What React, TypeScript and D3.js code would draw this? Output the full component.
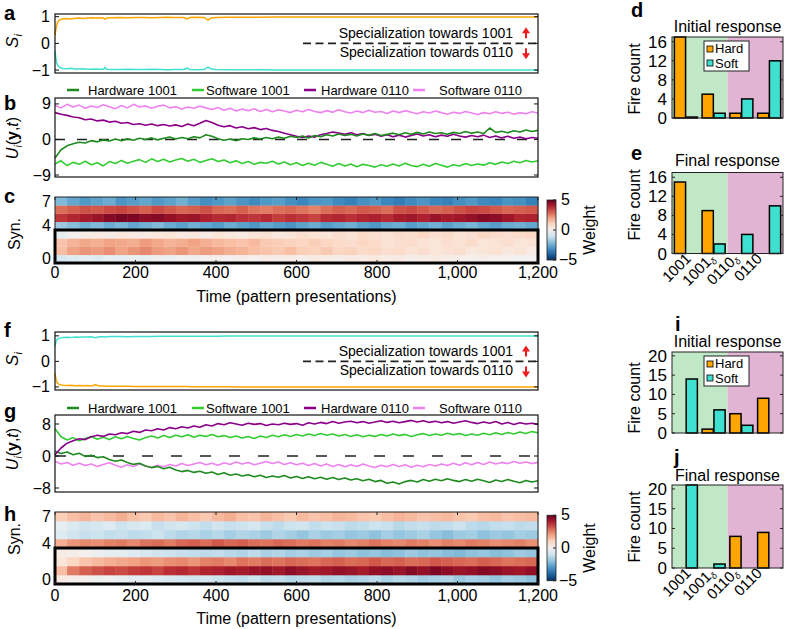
import React from "react";
import * as d3 from "d3";

const FONT = "'Liberation Sans', Arial, Helvetica, sans-serif";

const C_ORANGE = "#ffa500";
const C_CYAN = "#40e0d0";
const C_HW1001 = "#1f8a1f";
const C_SW1001 = "#33cc33";
const C_HW0110 = "#8b008b";
const C_SW0110 = "#ee82ee";
const BG_GREEN = "#c0e8c6";
const BG_PINK = "#e2b4d4";
const ARROW_RED = "#ee1c1c";

const L = 55;
const R = 538;

// ---------- time axis ----------
const TIME_MAX = 1200;
const TIME_TICKS = [0, 200, 400, 600, 800, 1000, 1200];
const TIME_TICK_LABELS = ["0", "200", "400", "600", "800", "1,000", "1,200"];
const TIME_TITLE = "Time (pattern presentations)";

// ---------- S_i panels (a, f) ----------
const S_T = [0, 3, 6, 10, 15, 20, 30, 40, 50, 60, 70, 80, 90, 100, 110, 120, 124, 128, 140, 160, 180, 200, 220, 240, 260, 280, 300, 320, 328, 335, 350, 370, 380, 388, 400, 430, 460, 500, 550, 600, 650, 700, 750, 800, 850, 900, 950, 1000, 1050, 1100, 1150, 1200];
const A_ORANGE = [0.3, 0.6, 0.78, 0.86, 0.9, 0.92, 0.93, 0.91, 0.94, 0.95, 0.93, 0.95, 0.96, 0.95, 0.96, 0.95, 0.9, 0.95, 0.96, 0.97, 0.96, 0.97, 0.97, 0.96, 0.97, 0.98, 0.97, 0.97, 0.92, 0.97, 0.98, 0.97, 0.87, 0.95, 0.97, 0.98, 0.98, 0.98, 0.99, 0.99, 0.99, 0.99, 0.99, 0.99, 0.99, 0.99, 0.99, 0.99, 0.99, 0.99, 0.99, 0.99];
const A_CYAN = [-0.3, -0.65, -0.8, -0.88, -0.92, -0.94, -0.95, -0.93, -0.96, -0.96, -0.95, -0.97, -0.97, -0.96, -0.97, -0.97, -0.91, -0.97, -0.98, -0.98, -0.97, -0.98, -0.98, -0.97, -0.98, -0.99, -0.98, -0.98, -0.93, -0.98, -0.99, -0.98, -0.89, -0.96, -0.98, -0.99, -0.99, -0.99, -1, -1, -1, -1, -1, -1, -1, -1, -1, -1, -1, -1, -1, -1];
const F_CYAN = [0.6, 0.8, 0.87, 0.9, 0.92, 0.93, 0.94, 0.93, 0.95, 0.94, 0.95, 0.95, 0.96, 0.93, 0.96, 0.96, 0.95, 0.96, 0.97, 0.97, 0.96, 0.97, 0.97, 0.97, 0.98, 0.98, 0.98, 0.98, 0.98, 0.98, 0.98, 0.98, 0.98, 0.98, 0.98, 0.99, 0.99, 0.99, 0.99, 0.99, 0.99, 0.99, 0.99, 0.99, 0.99, 0.99, 0.99, 0.99, 0.99, 0.99, 0.99, 0.99];
const F_ORANGE = [-0.45, -0.75, -0.85, -0.9, -0.92, -0.93, -0.94, -0.93, -0.95, -0.94, -0.95, -0.94, -0.96, -0.92, -0.96, -0.96, -0.96, -0.97, -0.97, -0.97, -0.97, -0.98, -0.98, -0.98, -0.98, -0.98, -0.98, -0.98, -0.98, -0.99, -0.99, -0.99, -0.99, -0.99, -0.99, -0.99, -1, -1, -1, -1, -1, -1, -1, -1, -1, -1, -1, -1, -1, -1, -1, -1];
const S_TICKS = [-1, 0, 1];
const SPEC_TEXT_UP = "Specialization towards 1001";
const SPEC_TEXT_DOWN = "Specialization towards 0110";

// ---------- U_i panels (b, g) — sampled every 15 presentations ----------
const LEGEND_LABELS = ["Hardware 1001", "Software 1001", "Hardware 0110", "Software 0110"];

const B_HW1001 = [-4.7, -2.6, -1.6, -1.1, -0.7, -0.9, -0.3, -0.6, -0.1, -0.4, 0.1, -0.3, 0.2, -0.2, 0.3, 0.0, 0.4, -0.1, 0.3, 0.6, 0.1, 0.5, 0.2, 0.7, 0.4, 1.2, 0.8, 0.2, -0.2, 0.1, -0.3, 0.2, 0.0, 0.4, 0.1, 0.5, 0.2, 0.6, 0.3, 0.8, 0.5, 0.9, 0.4, 1.0, 0.7, 1.2, 0.9, 1.4, 1.0, 1.3, 0.9, 1.4, 1.1, 1.5, 1.0, 1.3, 1.6, 1.2, 1.7, 1.3, 1.8, 1.4, 1.9, 1.5, 1.7, 1.3, 1.8, 1.5, 2.0, 1.6, 1.9, 1.5, 2.9, 1.8, 2.1, 1.7, 2.2, 1.9, 2.4, 2.0, 2.3];
const B_SW1001 = [-6.2, -5.4, -6.6, -5.8, -6.3, -5.5, -6.4, -5.9, -6.7, -5.6, -6.1, -5.3, -6.0, -5.5, -5.1, -5.8, -4.9, -5.6, -5.0, -5.7, -5.2, -4.8, -5.5, -5.0, -5.8, -5.3, -4.9, -5.6, -5.2, -5.9, -5.4, -6.1, -5.6, -6.3, -5.8, -6.0, -5.5, -6.2, -5.7, -6.4, -5.9, -6.6, -6.0, -6.5, -5.8, -6.3, -6.8, -6.1, -6.7, -6.2, -6.9, -6.3, -6.6, -7.0, -6.4, -6.8, -6.2, -6.7, -6.0, -6.6, -6.9, -6.3, -6.8, -6.1, -6.5, -7.0, -6.4, -6.7, -6.1, -6.6, -6.2, -6.5, -5.9, -6.3, -5.7, -6.1, -5.5, -5.9, -5.3, -5.7, -5.4];
const B_HW0110 = [6.8, 6.4, 6.1, 5.7, 5.5, 5.0, 5.2, 4.7, 4.9, 4.4, 4.6, 4.1, 4.3, 3.8, 4.0, 3.6, 3.9, 3.5, 3.8, 3.4, 3.7, 3.3, 3.9, 3.5, 4.1, 4.8, 4.3, 3.6, 3.2, 3.5, 2.9, 3.2, 2.7, 3.0, 2.5, 2.8, 2.3, 2.0, 1.6, 1.2, 0.8, 0.5, 0.9, 0.6, 1.2, 1.5, 1.9, 1.6, 1.3, 1.7, 1.2, 1.5, 1.0, 1.3, 0.8, 1.2, 0.7, 1.1, 0.6, 1.0, 1.4, 0.9, 1.2, 0.7, 1.1, 0.8, 1.3, 0.9, 0.6, 1.0, 0.7, 1.1, 0.5, 0.9, 0.4, 0.8, 0.3, 0.6, 0.2, 0.5, 0.3];
const B_SW0110 = [8.6, 8.0, 8.9, 8.2, 8.7, 7.9, 8.5, 8.1, 8.8, 8.3, 7.8, 8.6, 8.0, 8.9, 8.2, 8.5, 7.9, 8.4, 8.7, 8.0, 8.3, 7.7, 8.2, 7.9, 8.4, 8.0, 7.6, 8.1, 7.4, 7.9, 7.2, 7.7, 7.3, 7.8, 7.1, 7.6, 7.0, 7.5, 7.2, 6.8, 7.4, 7.0, 7.6, 7.1, 6.8, 7.3, 6.9, 7.5, 7.0, 6.7, 7.2, 6.8, 7.4, 6.9, 7.1, 6.6, 7.2, 6.8, 7.3, 6.9, 6.5, 7.0, 6.7, 7.2, 6.8, 6.4, 6.9, 6.6, 7.1, 6.7, 6.3, 6.8, 6.5, 7.0, 6.6, 6.9, 6.4, 6.8, 6.5, 7.0, 6.7];
const B_TICKS = [-9, 0, 9];

const G_HW1001 = [1.2, 0.6, 1.0, 0.3, 0.7, -0.1, 0.2, -0.4, -0.2, -0.9, -1.3, -1.0, -1.6, -2.1, -1.8, -2.5, -2.9, -2.6, -3.2, -2.8, -3.5, -3.9, -3.6, -4.1, -3.8, -4.3, -4.0, -4.6, -4.2, -4.8, -4.5, -5.0, -4.7, -5.2, -4.8, -5.4, -5.0, -5.3, -4.9, -5.5, -5.1, -5.6, -5.2, -5.7, -5.3, -5.8, -5.4, -5.9, -5.5, -6.0, -5.7, -6.2, -5.8, -6.4, -6.1, -6.8, -6.5, -7.0, -6.4, -6.1, -6.5, -5.9, -6.3, -5.8, -6.2, -5.7, -6.1, -6.4, -5.9, -6.3, -5.8, -6.2, -6.6, -6.0, -6.4, -5.9, -6.3, -6.7, -6.1, -6.5, -6.2];
const G_SW1001 = [6.8, 4.8, 4.0, 4.6, 3.8, 4.4, 4.9, 4.2, 4.7, 4.1, 4.8, 4.3, 4.9, 4.4, 4.0, 4.6, 5.0, 4.5, 5.1, 4.6, 5.2, 4.8, 5.3, 4.7, 5.2, 4.9, 5.4, 4.8, 5.1, 4.6, 5.0, 4.5, 4.9, 4.4, 5.0, 4.6, 5.2, 4.8, 5.3, 4.9, 5.4, 5.0, 5.5, 5.1, 5.6, 5.2, 5.5, 5.0, 5.4, 4.9, 5.3, 4.8, 5.2, 4.9, 5.4, 5.0, 5.5, 5.1, 5.4, 4.9, 5.3, 5.6, 5.1, 5.5, 5.2, 5.7, 5.3, 5.6, 5.1, 5.5, 5.2, 5.7, 5.3, 5.8, 5.4, 5.9, 5.5, 6.0, 5.6, 6.1, 5.8];
const G_HW0110 = [0.3, 2.0, 3.2, 3.8, 4.3, 4.1, 4.8, 5.2, 4.9, 5.5, 5.3, 5.8, 5.6, 6.2, 5.9, 6.5, 6.3, 6.8, 6.5, 7.1, 6.8, 7.3, 7.0, 7.5, 7.2, 7.8, 7.5, 8.1, 7.8, 8.3, 8.0, 7.7, 8.2, 7.9, 8.1, 7.6, 8.0, 7.8, 8.2, 7.9, 8.1, 7.7, 8.3, 8.0, 8.4, 8.1, 8.6, 8.2, 8.5, 8.7, 8.3, 8.6, 8.2, 8.5, 8.8, 8.4, 8.7, 8.3, 8.6, 8.9, 8.5, 8.8, 8.4, 8.7, 8.3, 8.6, 8.2, 8.5, 8.8, 8.4, 8.1, 8.5, 8.2, 8.6, 8.0, 8.4, 7.9, 8.3, 8.0, 8.2, 7.9];
const G_SW0110 = [-1.3, -2.0, -1.6, -2.3, -1.8, -2.4, -2.0, -2.6, -2.1, -1.7, -2.3, -2.8, -2.2, -2.6, -2.0, -2.5, -2.9, -2.3, -2.7, -2.1, -2.5, -1.9, -2.4, -2.0, -1.6, -2.2, -1.8, -2.3, -1.7, -2.1, -1.5, -2.0, -1.6, -2.2, -1.8, -1.4, -1.9, -1.5, -2.1, -1.7, -2.2, -1.8, -2.4, -1.9, -2.5, -2.0, -2.6, -2.1, -2.7, -2.2, -2.6, -2.0, -2.5, -2.9, -2.3, -2.7, -2.1, -2.6, -2.2, -2.8, -2.3, -2.7, -2.1, -2.5, -2.0, -2.4, -1.8, -2.3, -1.7, -2.2, -1.6, -2.1, -1.5, -2.0, -1.6, -1.9, -1.4, -1.8, -1.5, -1.9, -1.6];
const G_TICKS = [-8, 0, 8];

// ---------- heatmaps (c, h): synapse weights, 40 time bins of 30 presentations ----------
const C_SYN7 = [-2.2, -2.6, -2.9, -2.7, -2.5, -3.0, -2.8, -2.6, -2.9, -2.7, -2.4, -2.8, -3.1, -2.9, -2.7, -3.0, -3.2, -2.9, -2.8, -3.1, -3.3, -3.0, -2.9, -3.2, -3.4, -3.1, -2.9, -3.3, -3.5, -3.2, -3.0, -3.3, -3.4, -3.1, -2.9, -3.2, -3.3, -3.0, -3.1, -3.4];
const C_SYN6 = [2.8, 3.0, 3.2, 3.1, 3.3, 3.4, 3.2, 3.0, 3.3, 3.1, 2.9, 3.0, 3.2, 2.9, 2.8, 3.0, 2.7, 2.6, 2.8, 2.9, 2.7, 2.5, 2.8, 3.0, 2.9, 3.1, 3.0, 2.8, 3.2, 3.3, 3.1, 2.9, 3.0, 3.2, 3.4, 3.3, 3.1, 2.9, 3.0, 3.1];
const C_SYN5 = [3.6, 3.9, 4.1, 4.3, 4.6, 4.8, 4.7, 4.5, 4.6, 4.4, 4.2, 4.3, 4.0, 3.8, 3.9, 3.7, 3.6, 3.8, 3.5, 3.7, 3.6, 3.4, 3.8, 3.9, 3.7, 3.9, 4.0, 3.8, 4.1, 4.2, 4.0, 4.3, 4.1, 4.2, 4.4, 4.6, 4.5, 4.2, 3.9, 4.0];
const C_SYN4 = [-1.8, -2.1, -2.4, -2.2, -2.5, -2.3, -2.6, -2.4, -2.2, -2.5, -2.7, -2.4, -2.6, -2.8, -2.5, -2.7, -2.9, -2.6, -2.8, -3.0, -2.7, -2.5, -2.8, -2.6, -2.4, -2.7, -2.9, -2.6, -2.5, -2.8, -2.6, -2.4, -2.7, -2.5, -2.3, -2.6, -2.8, -2.5, -2.4, -2.6];
const C_SYN3 = [-0.4, 0.0, 0.3, 0.4, 0.3, 0.5, 0.4, 0.3, 0.5, 0.6, 0.4, 0.5, 0.3, 0.6, 0.5, 0.4, 0.6, 0.7, 0.5, 0.6, 0.8, 0.7, 0.6, 0.8, 0.7, 0.9, 0.8, 0.7, 0.9, 0.8, 1.0, 0.8, 0.9, 0.7, 0.8, 1.0, 0.9, 0.8, 0.9, 1.0];
const C_SYN2 = [1.4, 1.7, 1.9, 1.8, 2.0, 1.9, 1.8, 2.1, 1.9, 1.7, 1.8, 2.0, 1.8, 1.6, 1.5, 1.4, 1.6, 1.3, 1.2, 1.1, 1.0, 1.2, 1.0, 0.9, 0.8, 1.0, 0.9, 0.7, 0.8, 0.9, 0.7, 0.6, 0.8, 0.7, 0.9, 0.6, 0.7, 0.8, 0.6, 0.7];
const C_SYN1 = [1.5, 2.0, 2.2, 2.1, 2.3, 2.0, 2.2, 2.4, 2.1, 2.0, 2.2, 1.9, 2.1, 2.0, 1.8, 1.7, 1.5, 1.4, 1.3, 1.5, 1.2, 1.1, 1.3, 1.0, 1.1, 0.9, 1.0, 0.8, 0.9, 0.7, 0.8, 0.6, 0.7, 0.8, 0.5, 0.6, 0.7, 0.5, 0.6, 0.4];
const C_SYN0 = [-0.8, -0.6, -0.5, -0.6, -0.4, -0.5, -0.3, -0.4, -0.2, -0.3, -0.1, -0.2, 0.0, 0.1, 0.0, 0.2, 0.1, 0.3, 0.2, 0.3, 0.2, 0.4, 0.3, 0.2, 0.4, 0.3, 0.5, 0.3, 0.4, 0.2, 0.3, 0.4, 0.3, 0.2, 0.1, 0.2, 0.0, 0.1, -0.1, 0.0];

const H_SYN7 = [1.2, 1.5, 1.7, 1.4, 1.6, 1.8, 1.5, 1.3, 1.6, 1.4, 1.7, 1.5, 1.3, 1.6, 1.8, 1.5, 1.4, 1.7, 1.5, 1.3, 1.6, 1.4, 1.5, 1.7, 1.6, 1.4, 1.3, 1.5, 1.7, 1.6, 1.4, 1.5, 1.6, 1.4, 1.3, 1.5, 1.6, 1.4, 1.5, 1.6];
const H_SYN6 = [-0.4, -0.7, -0.9, -0.8, -0.6, -1.0, -0.8, -0.7, -1.1, -0.9, -0.8, -1.0, -1.2, -0.9, -1.1, -1.0, -0.8, -1.1, -1.3, -1.0, -0.9, -1.2, -1.0, -1.1, -1.3, -1.2, -1.0, -1.1, -1.4, -1.2, -1.1, -1.3, -1.2, -1.0, -1.3, -1.4, -1.2, -1.1, -1.3, -1.2];
const H_SYN5 = [-0.6, -0.9, -1.1, -1.0, -1.2, -1.1, -1.3, -1.2, -1.0, -1.3, -1.5, -1.4, -1.6, -1.4, -1.7, -1.5, -1.6, -1.8, -1.5, -1.7, -1.9, -1.6, -1.8, -1.7, -1.9, -1.8, -2.0, -1.7, -1.9, -1.8, -1.6, -1.9, -2.1, -1.8, -1.7, -2.0, -1.8, -1.9, -1.7, -1.8];
const H_SYN4 = [1.8, 2.2, 2.4, 2.3, 2.5, 2.6, 2.4, 2.7, 2.8, 2.6, 2.9, 3.0, 2.8, 3.1, 2.9, 3.0, 2.8, 2.7, 2.9, 2.8, 2.6, 2.7, 2.5, 2.6, 2.4, 2.5, 2.7, 2.5, 2.4, 2.6, 2.5, 2.3, 2.5, 2.4, 2.6, 2.5, 2.3, 2.4, 2.5, 2.3];
const H_SYN3 = [0.3, 0.2, 0.0, -0.2, -0.4, -0.5, -0.6, -0.8, -0.9, -1.0, -1.1, -1.2, -1.3, -1.2, -1.4, -1.5, -1.3, -1.6, -1.5, -1.7, -1.6, -1.8, -1.7, -1.9, -1.8, -2.0, -1.9, -2.1, -2.0, -1.8, -2.0, -1.9, -2.1, -2.2, -2.0, -1.9, -2.1, -2.0, -1.8, -1.9];
const H_SYN2 = [0.6, 1.0, 1.4, 1.6, 1.8, 1.9, 2.0, 2.2, 2.1, 2.3, 2.4, 2.2, 2.5, 2.6, 2.4, 2.7, 2.6, 2.8, 2.7, 2.9, 2.8, 2.7, 2.9, 3.0, 2.8, 2.9, 3.1, 2.9, 3.0, 2.8, 2.9, 3.1, 3.0, 2.9, 2.8, 3.0, 2.9, 2.7, 2.8, 2.9];
const H_SYN1 = [1.5, 2.6, 3.0, 3.2, 3.4, 3.3, 3.5, 3.6, 3.4, 3.7, 3.8, 3.6, 3.9, 4.0, 4.2, 4.1, 4.3, 4.4, 4.2, 4.5, 4.3, 4.1, 4.2, 4.4, 4.3, 4.1, 4.4, 4.5, 4.3, 4.6, 4.4, 4.7, 4.5, 4.3, 4.4, 4.6, 4.5, 4.3, 4.2, 4.4];
const H_SYN0 = [0.4, 0.2, 0.0, -0.2, -0.1, -0.3, -0.5, -0.4, -0.6, -0.7, -0.8, -0.9, -0.8, -1.0, -1.1, -1.2, -1.0, -1.3, -1.2, -1.4, -1.3, -1.2, -1.5, -1.4, -1.6, -1.5, -1.3, -1.6, -1.4, -1.5, -1.7, -1.6, -1.5, -1.8, -1.6, -1.7, -1.9, -1.7, -1.8, -2.0];

const SYN_TICKS = [7, 4, 0];
const WEIGHT_TICKS = [5, 0, -5];

// ---------- bar panels (d, e, i, j) ----------
const BAR_CATS = ["1001", "1001δ", "0110δ", "0110"];
const D_HARD = [17, 5, 1, 1];
const D_SOFT = [0.2, 1, 4, 12];
const E_HARD = [15, 9, 0, 0];
const E_SOFT = [0, 2, 4, 10];
const I_HARD = [0, 1, 5, 9];
const I_SOFT = [14, 6, 2, 0];
const J_HARD = [0, 0, 8, 9];
const J_SOFT = [21, 1, 0, 0];
const DE_TICKS = [0, 4, 8, 12, 16];
const IJ_TICKS = [0, 5, 10, 15, 20];

const fmt = (v: number) => (v < 0 ? "\u2212" + Math.abs(v) : String(v));

function Letter({ x, y, t }: any) {
  return (
    <text x={x} y={y} fontSize={20} fontWeight="bold">
      {t}
    </text>
  );
}

function SPanel({ top, bottom, domain, series, labelY }: any) {
  const x = d3.scaleLinear().domain([0, TIME_MAX]).range([L, R]);
  const y = d3.scaleLinear().domain(domain).range([bottom, top]);
  const line = d3
    .line<number>()
    .defined((_, i) => i < S_T.length)
    .x((_, i) => x(S_T[i]))
    .y((d) => y(d));
  const y0 = y(0);
  const ax = 526;
  return (
    <g>
      <line x1={303} x2={R} y1={y0} y2={y0} stroke="#222" strokeWidth={1.6} strokeDasharray="8,4.5" />
      {series.map((s: any, k: number) => (
        <path key={k} d={line(s.values) || ""} fill="none" stroke={s.color} strokeWidth={1.5} />
      ))}
      <text x={513} y={y0 - 5.5} fontSize={14} textAnchor="end">{SPEC_TEXT_UP}</text>
      <text x={513} y={y0 + 14} fontSize={14} textAnchor="end">{SPEC_TEXT_DOWN}</text>
      <line x1={ax} x2={ax} y1={y0 - 5} y2={y0 - 11} stroke={ARROW_RED} strokeWidth={2} />
      <path d={`M${ax - 4},${y0 - 10}L${ax + 4},${y0 - 10}L${ax},${y0 - 16}Z`} fill={ARROW_RED} />
      <line x1={ax} x2={ax} y1={y0 + 5} y2={y0 + 11} stroke={ARROW_RED} strokeWidth={2} />
      <path d={`M${ax - 4},${y0 + 10}L${ax + 4},${y0 + 10}L${ax},${y0 + 16}Z`} fill={ARROW_RED} />
      <rect x={L} y={top} width={R - L} height={bottom - top} fill="none" stroke="#111" strokeWidth={1.2} />
      {S_TICKS.map((v) => (
        <g key={v}>
          <line x1={L} x2={L + 4} y1={y(v)} y2={y(v)} stroke="#111" />
          <line x1={R - 4} x2={R} y1={y(v)} y2={y(v)} stroke="#111" />
          <text x={50} y={y(v) + 5.5} fontSize={16} textAnchor="end">{fmt(v)}</text>
        </g>
      ))}
      <text transform={`translate(18,${labelY}) rotate(-90)`} fontSize={17} textAnchor="middle">
        <tspan fontStyle="italic">S</tspan>
        <tspan fontStyle="italic" fontSize={11} dy={4}>i</tspan>
      </text>
    </g>
  );
}

function UPanel({ top, bottom, domain, ticks, series, legendY, labelY, dash }: any) {
  const x = d3.scaleLinear().domain([0, TIME_MAX]).range([L, R]);
  const y = d3.scaleLinear().domain(domain).range([bottom, top]);
  const line = d3
    .line<number>()
    .x((_, i, arr) => x((i * TIME_MAX) / (arr.length - 1)))
    .y((d) => y(d));
  const legendColors = [C_HW1001, C_SW1001, C_HW0110, C_SW0110];
  const lineX = [67, 192, 304, 413];
  const textX = [88, 206, 321, 439];
  return (
    <g>
      <line x1={L} x2={R} y1={y(0)} y2={y(0)} stroke="#222" strokeWidth={1.5} strokeDasharray={dash} />
      {series.map((s: any, k: number) => (
        <path key={k} d={line(s.values) || ""} fill="none" stroke={s.color} strokeWidth={1.6} strokeLinejoin="round" />
      ))}
      <rect x={L} y={top} width={R - L} height={bottom - top} fill="none" stroke="#111" strokeWidth={1.2} />
      {ticks.map((v: number) => (
        <g key={v}>
          <line x1={L} x2={L + 4} y1={y(v)} y2={y(v)} stroke="#111" />
          <line x1={R - 4} x2={R} y1={y(v)} y2={y(v)} stroke="#111" />
          <text x={51} y={y(v) + 5.5} fontSize={16} textAnchor="end">{fmt(v)}</text>
        </g>
      ))}
      {LEGEND_LABELS.map((lab, k) => (
        <g key={lab}>
          <line x1={lineX[k]} x2={lineX[k] + 12} y1={legendY} y2={legendY} stroke={legendColors[k]} strokeWidth={2.5} />
          <text x={textX[k]} y={legendY + 4.5} fontSize={13}>{lab}</text>
        </g>
      ))}
      <text transform={`translate(18,${labelY}) rotate(-90)`} fontSize={16} textAnchor="middle">
        <tspan fontStyle="italic">U</tspan>
        <tspan fontStyle="italic" fontSize={10} dy={4}>i</tspan>
        <tspan dy={-4}>(</tspan>
        <tspan fontWeight="bold">y</tspan>
        <tspan>,</tspan>
        <tspan fontStyle="italic">t</tspan>
        <tspan>)</tspan>
      </text>
    </g>
  );
}

function Heatmap({ top, bottom, rows, labelY, tickY, titleY, gid }: any) {
  const x = d3.scaleLinear().domain([0, TIME_MAX]).range([L, R]);
  const y = d3.scaleBand<number>().domain([7, 6, 5, 4, 3, 2, 1, 0]).range([top, bottom]);
  const color = d3.scaleSequential(d3.interpolateRdBu).domain([5, -5]);
  const cbX = 547;
  const cbW = 9;
  const cb = d3.scaleLinear().domain([-5.5, 5.5]).range([bottom, top]);
  const stops = d3.range(0, 1.0001, 0.1);
  return (
    <g>
      {rows.map((vals: number[], syn: number) =>
        vals.map((v, i) => {
          const n = vals.length;
          const x0 = x((i * TIME_MAX) / n);
          const x1 = x(((i + 1) * TIME_MAX) / n);
          return (
            <rect key={syn + "-" + i} x={x0} y={y(syn)} width={x1 - x0 + 0.4} height={y.bandwidth() + 0.3} fill={color(v)} />
          );
        })
      )}
      <rect x={L} y={top} width={R - L} height={bottom - top} fill="none" stroke="#222" strokeWidth={1} />
      <rect x={L} y={y(3)} width={R - L} height={bottom - (y(3) as number)} fill="none" stroke="#000" strokeWidth={3} />
      {TIME_TICKS.map((t, k) => (
        <g key={t}>
          <line x1={x(t)} x2={x(t)} y1={top} y2={top + 3} stroke="#222" />
          <line x1={x(t)} x2={x(t)} y1={bottom} y2={bottom - 3} stroke="#222" />
          <text x={x(t)} y={tickY} fontSize={16} textAnchor="middle">{TIME_TICK_LABELS[k]}</text>
        </g>
      ))}
      <text x={(L + R) / 2} y={titleY} fontSize={16} textAnchor="middle">{TIME_TITLE}</text>
      {SYN_TICKS.map((s) => (
        <text key={s} x={51} y={(y(s) as number) + y.bandwidth() / 2 + 5.5} fontSize={16} textAnchor="end">{s}</text>
      ))}
      <text transform={`translate(20,${labelY}) rotate(-90)`} fontSize={16} textAnchor="middle">Syn.</text>
      <defs>
        <linearGradient id={gid} x1="0" y1="1" x2="0" y2="0">
          {stops.map((s) => (
            <stop key={s} offset={s} stopColor={color(-5 + 10 * s)} />
          ))}
        </linearGradient>
      </defs>
      <rect x={cbX} y={cb(5)} width={cbW} height={cb(-5) - cb(5)} fill={`url(#${gid})`} stroke="#222" strokeWidth={0.8} />
      {WEIGHT_TICKS.map((v) => (
        <g key={v}>
          <line x1={cbX + cbW - 3} x2={cbX + cbW} y1={cb(v)} y2={cb(v)} stroke="#222" />
          <text x={v < 0 ? 559 : 561} y={cb(v) + 5} fontSize={16} textAnchor="start">{fmt(v)}</text>
        </g>
      ))}
      <text transform={`translate(595,${(top + bottom) / 2}) rotate(-90)`} fontSize={16} textAnchor="middle">Weight</text>
    </g>
  );
}

function BarPanel({ top, bottom, yMax, ticks, hard, soft, title, titleY, legend, xLabels, labelY }: any) {
  const left = 672;
  const right = 783;
  const x = d3.scaleBand<string>().domain(BAR_CATS).range([left, right]);
  const inner = d3.scaleBand<string>().domain(["hard", "soft"]).range([0, x.bandwidth()]).paddingInner(0.05).paddingOuter(0.2);
  const y = d3.scaleLinear().domain([0, yMax]).range([bottom, top]);
  const labelPos = d3.scalePoint<string>().domain(BAR_CATS).range([692, 763]);
  const mid = x(BAR_CATS[2]) as number;
  return (
    <g>
      <rect x={left} y={top} width={mid - left} height={bottom - top} fill={BG_GREEN} />
      <rect x={mid} y={top} width={right - mid} height={bottom - top} fill={BG_PINK} />
      {BAR_CATS.map((c, k) => (
        <g key={c}>
          {hard[k] > 0 && (
            <rect x={(x(c) as number) + (inner("hard") as number)} y={y(hard[k])} width={inner.bandwidth()} height={y(0) - y(hard[k])} fill={C_ORANGE} stroke="#000" strokeWidth={1.5} />
          )}
          {soft[k] > 0 && (
            <rect x={(x(c) as number) + (inner("soft") as number)} y={y(soft[k])} width={inner.bandwidth()} height={y(0) - y(soft[k])} fill={C_CYAN} stroke="#000" strokeWidth={1.5} />
          )}
        </g>
      ))}
      <rect x={left} y={top} width={right - left} height={bottom - top} fill="none" stroke="#222" strokeWidth={1} />
      {ticks.map((v: number) => (
        <g key={v}>
          <line x1={left} x2={left + 3} y1={y(v)} y2={y(v)} stroke="#222" />
          <line x1={right - 3} x2={right} y1={y(v)} y2={y(v)} stroke="#222" />
          <text x={667} y={y(v) + 6} fontSize={17} textAnchor="end">{v}</text>
        </g>
      ))}
      <text x={(left + right) / 2} y={titleY} fontSize={16} textAnchor="middle">{title}</text>
      <text transform={`translate(640,${labelY}) rotate(-90)`} fontSize={16} textAnchor="middle">Fire count</text>
      {legend && (
        <g>
          <rect x={704} y={top + 4} width={45} height={30} fill="#fff" stroke="#222" strokeWidth={1} />
          <rect x={707} y={top + 9} width={6} height={6} fill={C_ORANGE} stroke="#000" strokeWidth={0.8} />
          <text x={715} y={top + 16} fontSize={13}>Hard</text>
          <rect x={707} y={top + 23} width={6} height={6} fill={C_CYAN} stroke="#000" strokeWidth={0.8} />
          <text x={715} y={top + 31} fontSize={13}>Soft</text>
        </g>
      )}
      {xLabels &&
        BAR_CATS.map((c) => {
          const base = c.replace("δ", "");
          const hasD = c.includes("δ");
          return (
            <text key={c} transform={`translate(${labelPos(c)},${bottom + 6}) rotate(-45)`} fontSize={15} textAnchor="end">
              {base}
              {hasD && (
                <tspan fontSize={9} fontStyle="italic" dy={3}>δ</tspan>
              )}
            </text>
          );
        })}
    </g>
  );
}

export default function App() {
  return (
    <svg width={786} height={629} style={{ position: "absolute", left: 0, top: 0, background: "#fff" }} fontFamily={FONT}>
      <rect x={0} y={0} width={786} height={629} fill="#fff" />
      {/* a */}
      <SPanel
        top={14}
        bottom={73}
        domain={[-1.11, 1.1]}
        labelY={41}
        series={[
          { values: A_CYAN, color: C_CYAN },
          { values: A_ORANGE, color: C_ORANGE },
        ]}
      />
      <Letter x={4} y={20} t="a" />
      {/* b */}
      <UPanel
        top={98}
        bottom={177}
        domain={[-9.5, 10.5]}
        ticks={B_TICKS}
        legendY={90}
        labelY={138}
        dash="10,12"
        series={[
          { values: B_SW0110, color: C_SW0110 },
          { values: B_SW1001, color: C_SW1001 },
          { values: B_HW0110, color: C_HW0110 },
          { values: B_HW1001, color: C_HW1001 },
        ]}
      />
      <Letter x={4} y={110} t="b" />
      {/* c */}
      <Heatmap
        top={197}
        bottom={263}
        rows={[C_SYN0, C_SYN1, C_SYN2, C_SYN3, C_SYN4, C_SYN5, C_SYN6, C_SYN7]}
        labelY={234}
        tickY={278}
        titleY={302}
        gid="cbc"
      />
      <Letter x={4} y={203} t="c" />
      {/* f */}
      <SPanel
        top={332}
        bottom={390}
        domain={[-1.12, 1.15]}
        labelY={359}
        series={[
          { values: F_ORANGE, color: C_ORANGE },
          { values: F_CYAN, color: C_CYAN },
        ]}
      />
      <Letter x={4} y={337} t="f" />
      {/* g */}
      <UPanel
        top={415}
        bottom={492}
        domain={[-9, 10.25]}
        ticks={G_TICKS}
        legendY={408}
        labelY={449}
        dash="11,18"
        series={[
          { values: G_SW0110, color: C_SW0110 },
          { values: G_SW1001, color: C_SW1001 },
          { values: G_HW1001, color: C_HW1001 },
          { values: G_HW0110, color: C_HW0110 },
        ]}
      />
      <Letter x={4} y={418} t="g" />
      {/* h */}
      <Heatmap
        top={512}
        bottom={584}
        rows={[H_SYN0, H_SYN1, H_SYN2, H_SYN3, H_SYN4, H_SYN5, H_SYN6, H_SYN7]}
        labelY={539}
        tickY={601}
        titleY={624}
        gid="cbh"
      />
      <Letter x={4} y={521} t="h" />
      {/* d, e, i, j */}
      <BarPanel top={37} bottom={118} yMax={17} ticks={DE_TICKS} hard={D_HARD} soft={D_SOFT} title="Initial response" titleY={32} legend labelY={79} />
      <Letter x={631} y={17} t="d" />
      <BarPanel top={172.5} bottom={253.5} yMax={17} ticks={DE_TICKS} hard={E_HARD} soft={E_SOFT} title="Final response" titleY={166} xLabels labelY={205} />
      <Letter x={631} y={160} t="e" />
      <BarPanel top={352} bottom={433} yMax={21} ticks={IJ_TICKS} hard={I_HARD} soft={I_SOFT} title="Initial response" titleY={347} legend labelY={398} />
      <Letter x={675} y={331} t="i" />
      <BarPanel top={485} bottom={568} yMax={21} ticks={IJ_TICKS} hard={J_HARD} soft={J_SOFT} title="Final response" titleY={481} xLabels labelY={527} />
      <Letter x={674} y={464} t="j" />
    </svg>
  );
}
